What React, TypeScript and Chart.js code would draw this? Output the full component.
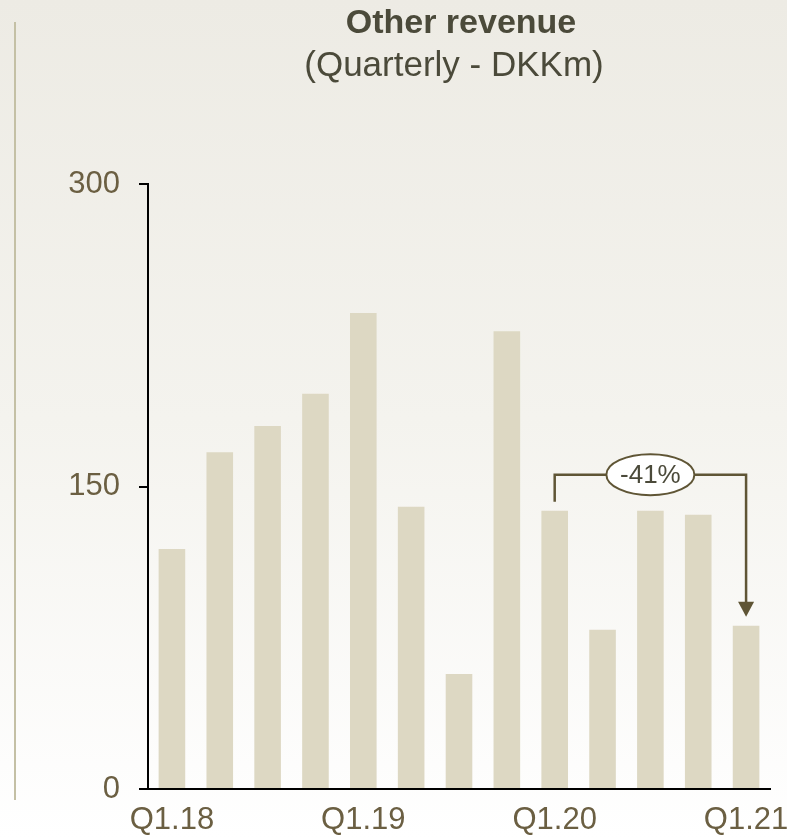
import React, { useEffect, useRef } from 'react';
import { Chart, registerables } from 'chart.js';

Chart.register(...registerables);

const categories = ['Q1.18', 'Q2.18', 'Q3.18', 'Q4.18', 'Q1.19', 'Q2.19', 'Q3.19', 'Q4.19', 'Q1.20', 'Q2.20', 'Q3.20', 'Q4.20', 'Q1.21'];
const otherRevenue = [119, 167, 180, 196, 236, 140, 57, 227, 138, 79, 138, 136, 81];
const shownTickLabels = ['Q1.18', 'Q1.19', 'Q1.20', 'Q1.21'];
const yTickValues = [0, 150, 300];
const titleText = 'Other revenue';
const subtitleText = '(Quarterly - DKKm)';
const changeLabel = '-41%';
const changeFromIndex = 8;
const changeToIndex = 12;

const FONT = '"Liberation Sans", Arial, Helvetica, sans-serif';
const TICK_COLOR = '#6b5f42';
const TITLE_COLOR = '#4b4a3a';
const ANNOT_COLOR = '#5f5535';
const BAR_COLOR = '#ddd8c3';

const backgroundPlugin = {
  id: 'bgPlugin',
  beforeDraw(chart: any) {
    const { ctx, width, height } = chart;
    ctx.save();
    const g = ctx.createLinearGradient(0, 0, 0, height);
    g.addColorStop(0, '#edebe4');
    g.addColorStop(0.5, '#f4f3ee');
    g.addColorStop(1, '#ffffff');
    ctx.fillStyle = g;
    ctx.fillRect(0, 0, width, height);
    ctx.strokeStyle = '#c4c0a5';
    ctx.lineWidth = 2;
    ctx.beginPath();
    ctx.moveTo(15, 22);
    ctx.lineTo(15, 800);
    ctx.stroke();
    ctx.restore();
  },
};

const titlePlugin = {
  id: 'titlePlugin',
  afterDraw(chart: any) {
    const { ctx } = chart;
    ctx.save();
    ctx.fillStyle = TITLE_COLOR;
    ctx.textAlign = 'center';
    ctx.textBaseline = 'alphabetic';
    ctx.font = `bold 34px ${FONT}`;
    ctx.fillText(titleText, 461, 33);
    ctx.font = `35px ${FONT}`;
    ctx.fillText(subtitleText, 454, 76);
    ctx.restore();
  },
};

const annotationPlugin = {
  id: 'changeAnnotation',
  afterDatasetsDraw(chart: any) {
    const { ctx, scales } = chart;
    const xs = scales.x;
    const ys = scales.y;
    const x1 = xs.getPixelForValue(changeFromIndex);
    const x2 = xs.getPixelForValue(changeToIndex);
    const yFromTop = ys.getPixelForValue(otherRevenue[changeFromIndex]);
    const yToTop = ys.getPixelForValue(otherRevenue[changeToIndex]);
    const legStart = yFromTop - 9;
    const levelY = yFromTop - 36;
    const tipY = yToTop - 9;
    ctx.save();
    ctx.strokeStyle = ANNOT_COLOR;
    ctx.fillStyle = ANNOT_COLOR;
    ctx.lineWidth = 2.5;
    ctx.lineJoin = 'miter';
    ctx.beginPath();
    ctx.moveTo(x1, legStart);
    ctx.lineTo(x1, levelY);
    ctx.lineTo(x2, levelY);
    ctx.lineTo(x2, tipY - 14);
    ctx.stroke();
    ctx.beginPath();
    ctx.moveTo(x2 - 8, tipY - 15);
    ctx.lineTo(x2 + 8, tipY - 15);
    ctx.lineTo(x2, tipY);
    ctx.closePath();
    ctx.fill();
    const cx = (x1 + x2) / 2;
    ctx.beginPath();
    ctx.ellipse(cx, levelY, 44, 20.5, 0, 0, Math.PI * 2);
    ctx.fillStyle = '#ffffff';
    ctx.fill();
    ctx.lineWidth = 2;
    ctx.stroke();
    ctx.fillStyle = TITLE_COLOR;
    ctx.font = `26px ${FONT}`;
    ctx.textAlign = 'center';
    ctx.textBaseline = 'middle';
    ctx.fillText(changeLabel, cx, levelY + 1);
    ctx.restore();
  },
};

export default function App() {
  const canvasRef = useRef<HTMLCanvasElement | null>(null);

  useEffect(() => {
    const canvas = canvasRef.current;
    if (!canvas) return;
    const chart = new Chart(canvas, {
      type: 'bar',
      data: {
        labels: categories,
        datasets: [
          {
            label: 'Other revenue',
            data: otherRevenue,
            backgroundColor: BAR_COLOR,
            borderWidth: 0,
            barPercentage: 0.556,
            categoryPercentage: 1,
          },
        ],
      },
      options: {
        responsive: false,
        animation: false,
        devicePixelRatio: 1,
        layout: { padding: { top: 184, right: 17, left: 0, bottom: 0 } },
        plugins: {
          legend: { display: false },
          tooltip: { enabled: false },
          title: { display: false },
        },
        scales: {
          x: {
            type: 'category',
            grid: { display: true, drawOnChartArea: false, drawTicks: false },
            border: { display: true, color: '#000000', width: 2 },
            ticks: {
              autoSkip: false,
              maxRotation: 0,
              minRotation: 0,
              padding: 13,
              color: TICK_COLOR,
              font: { family: FONT, size: 31 },
              callback: (_v: any, i: number) =>
                shownTickLabels.includes(categories[i]) ? categories[i] : '',
            },
            afterFit: (s: any) => {
              s.height = 49;
              s.paddingLeft = 0;
              s.paddingRight = 0;
            },
          },
          y: {
            min: 0,
            max: 300,
            afterBuildTicks: (s: any) => {
              s.ticks = yTickValues.map((v) => ({ value: v }));
            },
            grid: {
              display: true,
              drawOnChartArea: false,
              drawTicks: true,
              tickLength: 9,
              color: '#000000',
              lineWidth: 2,
            },
            border: { display: true, color: '#000000', width: 2 },
            ticks: {
              padding: 19,
              color: TICK_COLOR,
              font: { family: FONT, size: 31 },
            },
            afterFit: (s: any) => {
              s.width = 148;
              s.paddingTop = 0;
              s.paddingBottom = 0;
            },
          },
        },
      },
      plugins: [backgroundPlugin, annotationPlugin, titlePlugin],
    });
    return () => chart.destroy();
  }, []);

  return (
    <div style={{ position: 'fixed', left: 0, top: 0, width: 787, height: 838 }}>
      <canvas ref={canvasRef} width={787} height={838} style={{ display: 'block', width: 787, height: 838 }} />
    </div>
  );
}
